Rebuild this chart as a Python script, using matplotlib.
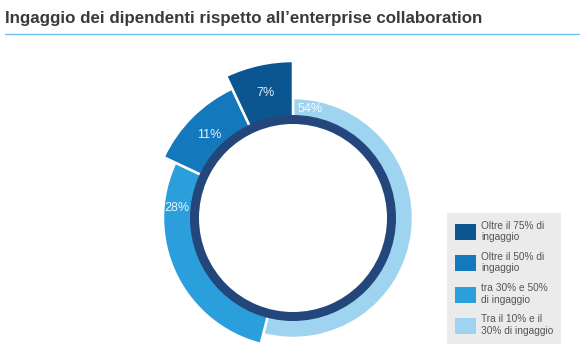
import numpy as np
import matplotlib
matplotlib.use("Agg")
import matplotlib.pyplot as plt
from matplotlib.patches import Patch

plt.rcParams['font.family'] = ['Liberation Sans', 'DejaVu Sans']

# Data (clockwise from the top)
shares = [54, 28, 11, 7]
labels = ["Tra il 10% e il\n30% di ingaggio", "tra 30% e 50%\ndi ingaggio",
          "Oltre il 50% di\ningaggio", "Oltre il 75% di\ningaggio"]
colors = ["#9fd4f1", "#2a9fdb", "#1479bc", "#0b5591"]
outer = [120, 130, 143, 157]   # outer radius of each slice, px

title = "Ingaggio dei dipendenti rispetto all\u2019enterprise collaboration"

W, H = 580, 361
fig = plt.figure(figsize=(W / 100, H / 100), dpi=100)

# title + rule
fig.text(5 / W, 1 - 19 / H, title, fontsize=12.2, fontweight='bold', color='#3a3a3a', va='center', ha='left')
fig.add_artist(plt.Line2D([5 / W, 1], [1 - 34 / H, 1 - 34 / H], color='#6fc3ea', lw=1.0))

# donut on a polar axes, radius units = pixels
cx, cy, R = 293, 218, 165
ax = fig.add_axes([(cx - R) / W, (H - cy - R) / H, 2 * R / W, 2 * R / H], projection='polar')
ax.set_theta_zero_location('N')
ax.set_theta_direction(-1)
ax.set_ylim(0, R)
ax.axis('off')

frac = np.array(shares) / sum(shares)
starts = np.concatenate([[0], np.cumsum(frac)[:-1]]) * 2 * np.pi
widths = frac * 2 * np.pi
base = 96
ax.bar(starts, np.array(outer) - base, width=widths, bottom=base, align='edge',
       color=colors, edgecolor='white', linewidth=1.8)
# navy ring
ax.bar(0, 9, width=2 * np.pi, bottom=94, color='#23477b', linewidth=0)

# percentage labels
lab_ang = [starts[0] + 0.16, starts[1] + widths[1] - 0.35, starts[2] + widths[2] / 2, starts[3] + widths[3] / 2]
lab_r = [110, 117, 118, 128]
for a, r, s in zip(lab_ang, lab_r, shares):
    ax.text(a, r, f"{s}%", ha='center', va='center', fontsize=9, color='white', alpha=0.9)

# legend
handles = [Patch(facecolor=c, edgecolor='none') for c in colors[::-1]]
leg = fig.legend(handles, labels[::-1], loc='upper left', bbox_to_anchor=(447 / W, 1 - 213 / H),
                 fontsize=7.3, handlelength=2.07, handleheight=2.07, handletextpad=0.55,
                 labelspacing=0.95, borderpad=0.75, frameon=True, fancybox=False,
                 borderaxespad=0)
leg.get_frame().set_facecolor('#e6e7e8')
leg.get_frame().set_edgecolor('none')
for t in leg.get_texts():
    t.set_color('#555555')

fig.savefig("out.png", dpi=100)
